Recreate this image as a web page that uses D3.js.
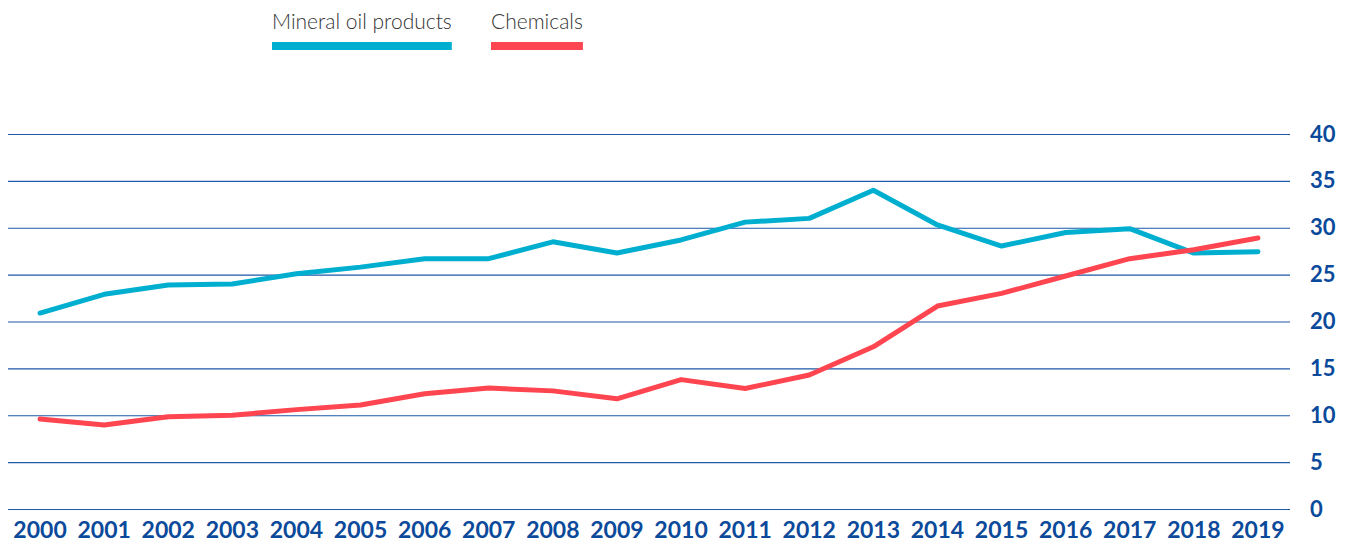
<!DOCTYPE html>
<html>
<head>
<meta charset="utf-8">
<script src="https://cdn.jsdelivr.net/npm/d3@7"></script>
<style>
  body { margin: 0; background: #fff; }
  svg { display: block; font-family: Lato, "Open Sans", sans-serif; }
</style>
</head>
<body>
<div id="container"></div>
<script>
/* DATA */
const years = ["2000", "2001", "2002", "2003", "2004", "2005", "2006", "2007", "2008", "2009",
  "2010", "2011", "2012", "2013", "2014", "2015", "2016", "2017", "2018", "2019"];
const mineralOil = [20.9, 22.9, 23.9, 24.0, 25.1, 25.8, 26.7, 26.7, 28.5, 27.3,
  28.7, 30.6, 31.0, 34.0, 30.3, 28.05, 29.5, 29.9, 27.3, 27.45];
const chemicals = [9.6, 8.96, 9.85, 10.0, 10.6, 11.1, 12.3, 12.9, 12.6, 11.75,
  13.8, 12.85, 14.3, 17.3, 21.65, 23.0, 24.85, 26.7, 27.65, 28.9];
const yTicks = [0, 5, 10, 15, 20, 25, 30, 35, 40];
const seriesNames = ["Mineral oil products", "Chemicals"];

/* CONSTANTS */
const width = 1352;
const height = 545;
const margin = { top: 134, bottom: 36, left: 8, right: 62 };
const colors = ["#00afd0", "#ff4650"];
const blue = "#0b4a9b";

const svg = d3.select("#container")
  .append("svg")
  .attr("width", width)
  .attr("height", height);

/* SCALES */
const xScale = d3.scaleBand()
  .domain(years)
  .range([margin.left, width - margin.right]);

const yScale = d3.scaleLinear()
  .domain([0, 40])
  .range([height - margin.bottom, margin.top]);

// gridlines + y labels on the right
const yAxis = svg.append("g")
  .attr("transform", `translate(${width - margin.right},0)`)
  .call(d3.axisRight(yScale).tickValues(yTicks)
    .tickSize(-(width - margin.left - margin.right)).tickPadding(20));
yAxis.select(".domain").remove();
yAxis.selectAll("line").attr("stroke", "#1d59a6").attr("stroke-width", 1.2);
yAxis.selectAll("text")
  .attr("fill", blue)
  .attr("font-size", 22)
  .attr("font-weight", 700)
  .attr("font-family", "Lato, sans-serif");

// x labels
const xAxis = svg.append("g")
  .attr("transform", `translate(0,${height - margin.bottom})`)
  .call(d3.axisBottom(xScale).tickSize(0).tickPadding(13));
xAxis.select(".domain").remove();
xAxis.selectAll("text")
  .attr("fill", blue)
  .attr("font-size", 23)
  .attr("font-weight", 700)
  .attr("font-family", "Lato, sans-serif");

/* LINES */
const line = d3.line()
  .x((d, i) => xScale(years[i]) + xScale.bandwidth() / 2)
  .y(d => yScale(d));

[mineralOil, chemicals].forEach((values, i) => {
  svg.append("path")
    .datum(values)
    .attr("d", line)
    .attr("fill", "none")
    .attr("stroke", colors[i])
    .attr("stroke-width", 5)
    .attr("stroke-linecap", "round")
    .attr("stroke-linejoin", "round");
});

/* LEGEND */
const legendX = [272, 491];
seriesNames.forEach((name, i) => {
  const t = svg.append("text")
    .attr("x", legendX[i])
    .attr("y", 29)
    .attr("font-size", 21)
    .attr("font-weight", 300)
    .attr("fill", "#333")
    .text(name);
  const w = t.node().getComputedTextLength();
  svg.append("rect")
    .attr("x", legendX[i])
    .attr("y", 42)
    .attr("width", w)
    .attr("height", 8)
    .attr("fill", colors[i]);
});
</script>
</body>
</html>
